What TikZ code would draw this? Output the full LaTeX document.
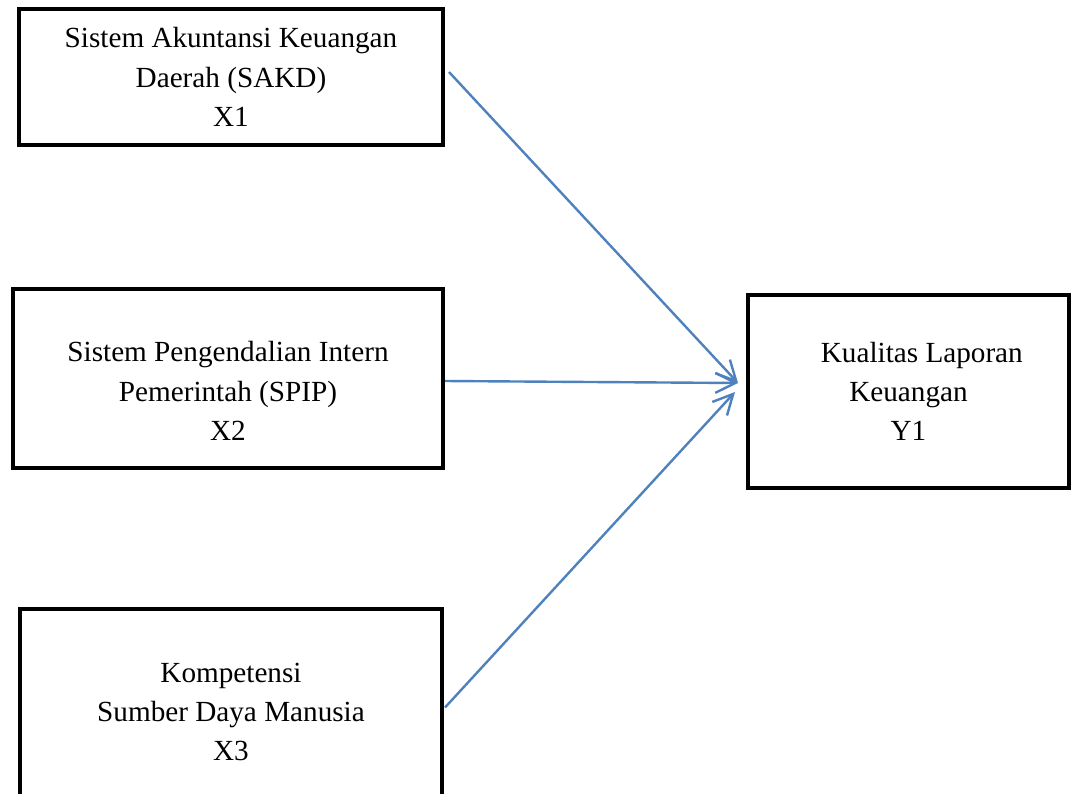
\documentclass[tikz,border=0pt]{standalone}
\usepackage{fontspec}
\setmainfont{Liberation Serif}
\usetikzlibrary{arrows.meta,calc}
\definecolor{arrowblue}{HTML}{4F81BD}

\begin{document}
\begin{tikzpicture}[x=0.75pt,y=-0.75pt,
  box/.style={draw, line width=3pt, outer sep=0pt, align=center,
    font=\fontsize{21.9}{29.5}\selectfont},
  arr/.style={arrowblue, line width=1.8pt,
    -{Straight Barb[length=15pt,width=15pt,line width=1.8pt]}}]
\useasboundingbox (0,0) rectangle (1075,793);

% variabel bebas
\node[box, minimum width=318pt, minimum height=102pt] (x1) at (231,77)
  {Sistem Akuntansi Keuangan\\Daerah (SAKD)\\X1};
\node[box, minimum width=322.5pt, minimum height=134.25pt] (x2) at (228,378.5)
  {\rule{0pt}{34pt}Sistem Pengendalian Intern\\Pemerintah (SPIP)\\X2};
\node[box, minimum width=316.5pt, minimum height=154.5pt] (x3) at (231,712)
  {Kompetensi\\Sumber Daya Manusia\\X3};

% variabel terikat
\node[box, minimum width=240.75pt, minimum height=144.75pt] (y1) at (908.5,391.5)
  {\hspace*{20pt}Kualitas Laporan\\Keuangan\\Y1};

\draw[arr] ($(x1.east)+(6,-5)$) -- ($(y1.west)+(-10,-8.5)$);
\draw[arr] ($(x2.east)+(2,2.5)$) -- ($(y1.west)+(-10,-8.5)$);
\draw[arr] ($(x3.east)+(3,-4.5)$) -- ($(y1.west)+(-13,0.5)$);

\end{tikzpicture}
\end{document}
